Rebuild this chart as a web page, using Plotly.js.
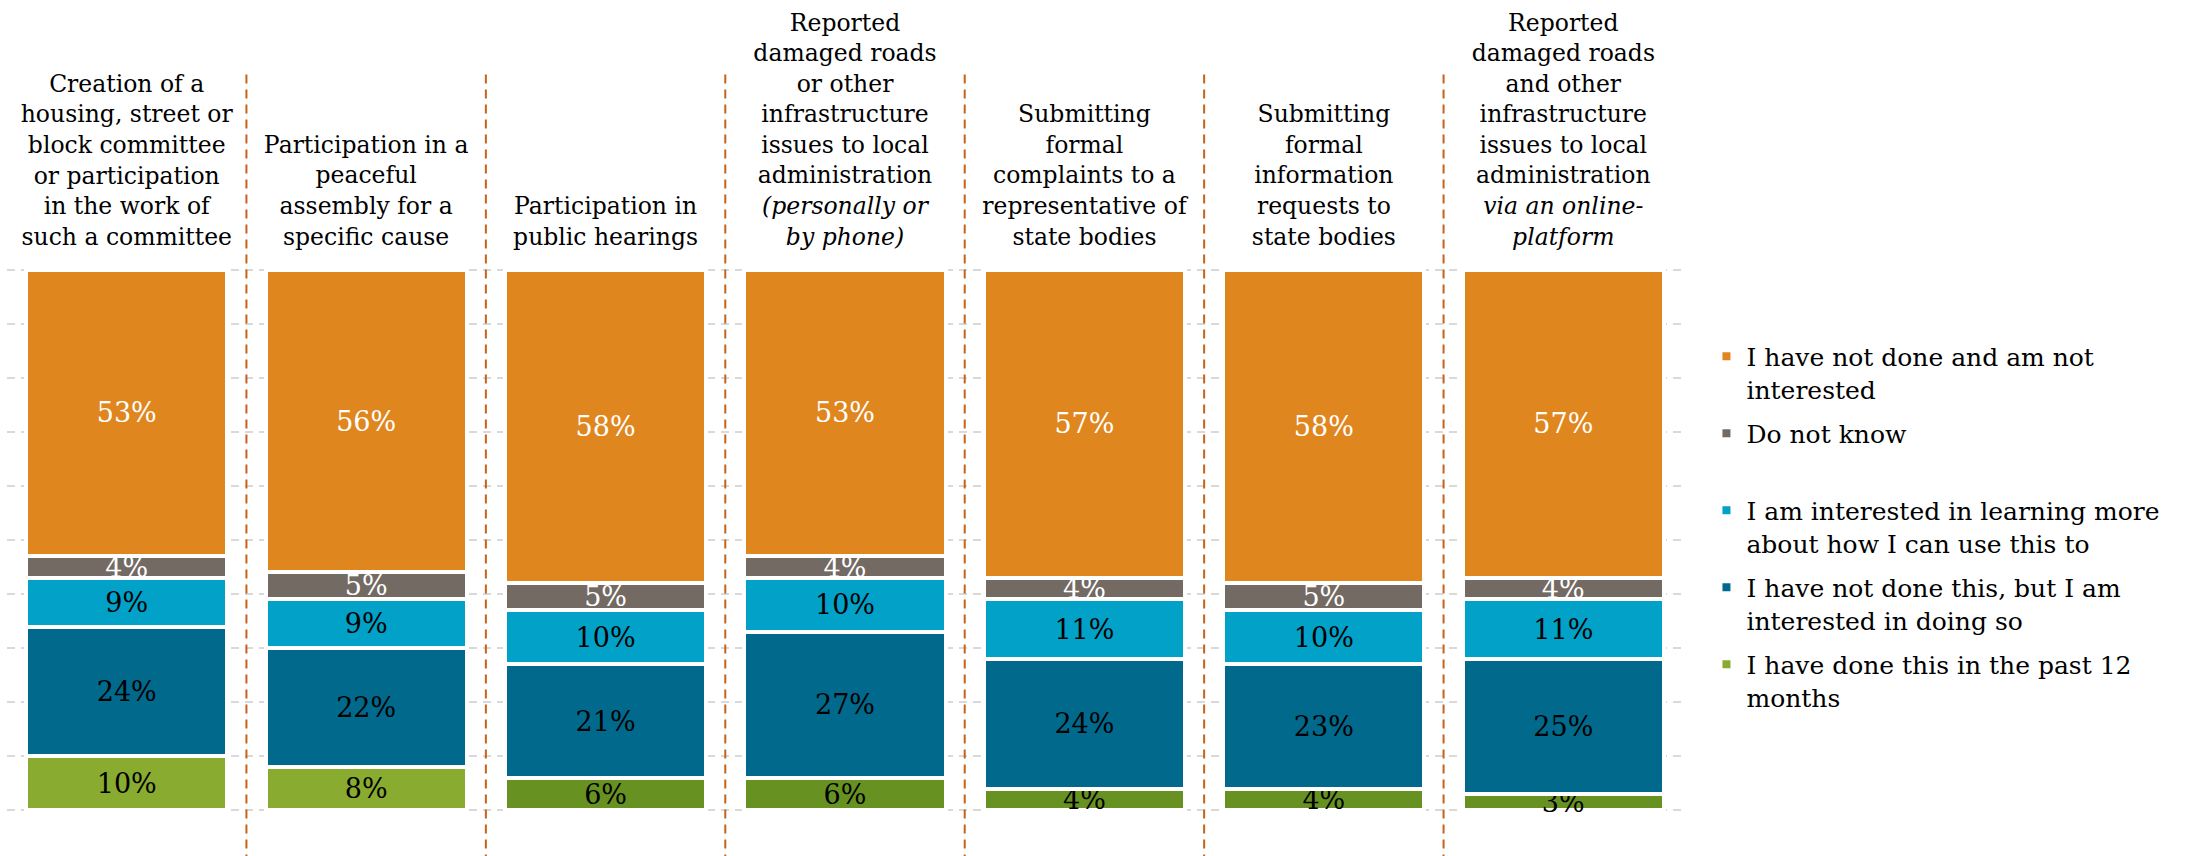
<!DOCTYPE html>
<html>
<head>
<meta charset="utf-8">
<script src="https://cdn.plot.ly/plotly-3.0.1.min.js"></script>
<style>html,body{margin:0;padding:0;background:#fff;}</style>
</head>
<body>
<div id="chart" style="width:2185px;height:856px;"></div>
<script>
// Categories (multi-line labels)
const categories = [
  "Creation of a<br>housing, street or<br>block committee<br>or participation<br>in the work of<br>such a committee",
  "Participation in a<br>peaceful<br>assembly for a<br>specific cause",
  "Participation in<br>public hearings",
  "Reported<br>damaged roads<br>or other<br>infrastructure<br>issues to local<br>administration<br><i>(personally or</i><br><i>by phone)</i>",
  "Submitting<br>formal<br>complaints to a<br>representative of<br>state bodies",
  "Submitting<br>formal<br>information<br>requests to<br>state bodies",
  "Reported<br>damaged roads<br>and other<br>infrastructure<br>issues to local<br>administration<br><i>via an online-</i><br><i>platform</i>"
];

// Series values (percent), bottom to top of each stack
const doneLast12 = [10, 8, 6, 6, 4, 4, 3];
const notDoneInterested = [24, 22, 21, 27, 24, 23, 25];
const learnMore = [9, 9, 10, 10, 11, 10, 11];
const doNotKnow = [4, 5, 5, 4, 4, 5, 4];
const notInterested = [53, 56, 58, 53, 57, 58, 57];

// Series names
const seriesNames = [
  "I have done this in the past 12<br>months",
  "I have not done this, but I am<br>interested in doing so",
  "I am interested in learning more<br>about how I can use this to",
  "Do not know<br> ",
  "I have not done and am not<br>interested"
];

// Colours
const greenColors = ["#89AB30", "#89AB30", "#679222", "#679222", "#679222", "#679222", "#679222"];
const darkBlue = "#00698C";
const lightBlue = "#01A1C8";
const grey = "#736A64";
const orange = "#E0861E";
const separatorColor = "#C8611A";

const serif = "DejaVu Serif, Georgia, serif";
const valueFont = 27;

const seriesValues = [doneLast12, notDoneInterested, learnMore, doNotKnow, notInterested];
const seriesColors = [greenColors, darkBlue, lightBlue, grey, orange];
const textColors = ["#000000", "#000000", "#000000", "#FFFFFF", "#FFFFFF"];

const xIdx = categories.map((c, i) => i);

const traces = seriesValues.map((vals, k) => ({
  type: "bar",
  x: xIdx,
  y: vals,
  name: seriesNames[k],
  legendgroup: "g" + k,
  legendrank: 100 - k * 10,
  marker: { color: seriesColors[k], line: { color: "#FFFFFF", width: 4 } },
  texttemplate: "%{y}%",
  textposition: "inside",
  insidetextanchor: "middle",
  textangle: 0,
  constraintext: "none",
  textfont: { family: serif, size: valueFont, color: textColors[k] },
  hoverinfo: "skip",
  cliponaxis: false
}));

// Dashed separators between categories
const shapes = categories.slice(0, -1).map((c, i) => ({
  type: "line",
  xref: "x", yref: "paper",
  x0: i + 0.5, x1: i + 0.5,
  y0: -0.12, y1: 1.357,
  line: { color: separatorColor, width: 2, dash: "9px,6px" },
  layer: "above"
}));

const layout = {
  width: 2185,
  height: 856,
  margin: { l: 7, r: 502, t: 267, b: 43 },
  paper_bgcolor: "#FFFFFF",
  plot_bgcolor: "#FFFFFF",
  barmode: "stack",
  bargap: 0.16,
  showlegend: true,
  uniformtext: { mode: "show", minsize: valueFont },
  font: { family: serif, color: "#000000" },
  xaxis: {
    type: "linear",
    range: [-0.5, 6.5],
    side: "top",
    tickmode: "array",
    tickvals: xIdx,
    ticktext: categories,
    ticks: "outside",
    ticklen: 12,
    tickcolor: "rgba(0,0,0,0)",
    showgrid: false,
    zeroline: false,
    showline: false,
    tickfont: { family: serif, size: 23.5, color: "#000000" },
    fixedrange: true
  },
  yaxis: {
    range: [-0.5, 100.5],
    dtick: 10,
    tick0: 0,
    showticklabels: false,
    showgrid: true,
    gridcolor: "#D9D9D9",
    gridwidth: 2,
    griddash: "8px,6px",
    zeroline: false,
    showline: false,
    fixedrange: true
  },
  legend: {
    x: 1.014, xanchor: "left",
    y: 0.878, yanchor: "top",
    traceorder: "grouped",
    tracegroupgap: 9,
    valign: "top",
    font: { family: serif, size: 25, color: "#000000" },
    bgcolor: "rgba(0,0,0,0)"
  },
  shapes: shapes
};

Plotly.newPlot("chart", traces, layout, { displayModeBar: false, staticPlot: true });
</script>
</body>
</html>
